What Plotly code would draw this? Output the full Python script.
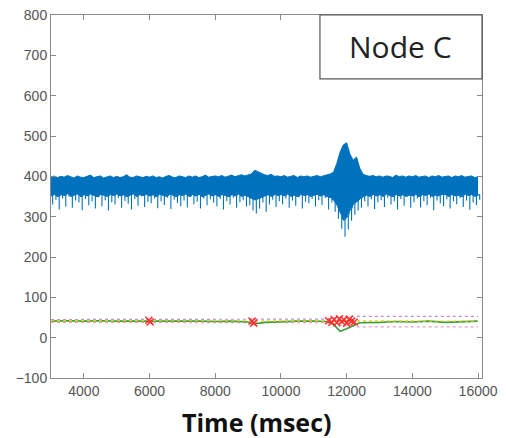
import plotly.graph_objects as go

# ---- data ----
t_start, t_step = 3000, 100
sig_upper = [398,401,397,400,398,402,399,396,401,398,
             397,400,403,397,399,401,396,398,401,397,
             400,397,399,404,398,397,401,399,397,400,
             398,401,397,399,396,400,402,398,397,401,
             399,397,401,398,401,397,399,403,398,400,
             401,399,402,398,400,403,399,402,404,401,
             403,406,415,411,408,404,402,405,400,401,
             399,402,398,400,402,397,401,399,401,398,
             400,402,399,401,403,406,410,432,460,478,
             483,455,440,448,420,405,402,400,402,399,
             401,398,401,400,397,403,399,401,398,401,
             399,402,398,400,401,397,401,399,402,398,
             400,401,397,401,399,402,398,400,401,397,
             399]
sig_core = [352,356,350,355,353,358,351,354,357,350,
            355,352,357,353,350,356,354,351,355,353,
            357,352,355,350,354,357,351,355,353,356,
            352,355,350,357,353,351,356,354,350,355,
            353,357,351,355,352,356,350,354,357,352,
            355,351,356,353,350,355,352,357,351,354,
            350,346,342,345,348,352,355,351,356,353,
            355,352,357,351,354,350,356,353,355,351,
            354,356,352,355,350,348,342,330,312,292,
            300,318,332,338,345,350,354,351,356,352,
            355,351,357,353,350,356,352,355,351,354,
            352,356,350,355,353,357,351,354,352,356,
            355,351,356,352,354,350,357,353,355,351,
            354]
sig_lower = [330,342,318,345,325,350,322,340,335,316,
             344,328,338,320,348,326,341,315,336,330,
             346,322,339,332,318,344,327,350,324,337,
             333,345,321,338,329,347,319,342,334,326,
             340,323,349,331,337,320,345,328,343,335,
             326,344,318,339,330,347,322,336,341,325,
             328,315,308,320,335,312,330,342,324,338,
             331,345,322,340,327,348,320,337,333,344,
             325,341,329,346,318,335,312,295,270,250,
             268,290,305,315,322,338,326,343,319,336,
             341,324,347,330,338,318,344,327,350,322,
             336,345,323,339,328,347,316,340,333,326,
             343,320,338,331,346,324,340,317,335,329,
             342]

green_t = [3000,3500,4000,4500,5000,5500,6000,6500,7000,7500,8000,8500,9000,9200,9500,
           10000,10500,11000,11400,11600,11800,12000,12200,12400,13000,13500,14000,14500,
           15000,15500,16000]
green_v = [41,42,41,42,41,41,42,41,42,41,40,41,39,34,38,40,41,41,40,33,16,22,30,37,38,
           40,39,41,38,39,41]

ub_t = [3000, 11400, 11700, 12300, 16000]
ub_v = [45, 46, 50, 53, 53]
lb_t = [3000, 11400, 11700, 12300, 16000]
lb_v = [38, 37, 32, 27, 27]
mid_t = [3000, 16000]
mid_v = [42, 41]

red_t = [5980, 6020, 9120, 9170, 11450, 11550, 11620, 11700, 11780, 11850, 11920,
         12000, 12080, 12150, 12230]
red_v = [43, 39, 41, 36, 42, 38, 45, 37, 47, 40, 44, 36, 46, 41, 39]

x_ticks = [4000, 6000, 8000, 10000, 12000, 14000, 16000]
x_tick_text = ["4000", "6000", "8000", "10000", "12000", "14000", "16000"]
y_ticks = [-100, 0, 100, 200, 300, 400, 500, 600, 700, 800]

sig_t = [t_start + i * t_step for i in range(len(sig_upper))]

# thin downward spikes: vertical strokes from the core level to the lower sample
spike_t, spike_v = [], []
for t, c, l in zip(sig_t, sig_core, sig_lower):
    tm = t + t_step * 0.5
    spike_t += [t, tm, tm, tm]
    spike_v += [c, c, l, c]

BLUE = "#0072BD"
fig = go.Figure()
fig.add_trace(go.Scatter(x=spike_t, y=spike_v, mode="lines",
                         line=dict(color=BLUE, width=1.1), hoverinfo="skip"))
fig.add_trace(go.Scatter(x=sig_t, y=sig_core, mode="lines",
                         line=dict(color=BLUE, width=1), hoverinfo="skip"))
fig.add_trace(go.Scatter(x=sig_t, y=sig_upper, mode="lines", fill="tonexty",
                         fillcolor=BLUE, line=dict(color=BLUE, width=1), hoverinfo="skip"))
fig.add_trace(go.Scatter(x=ub_t, y=ub_v, mode="lines",
                         line=dict(color="#b890e0", width=1.2, dash="dot")))
fig.add_trace(go.Scatter(x=lb_t, y=lb_v, mode="lines",
                         line=dict(color="#e8a0c8", width=1.2, dash="dot")))
fig.add_trace(go.Scatter(x=green_t, y=green_v, mode="lines",
                         line=dict(color="#3a9a3a", width=1.6)))
fig.add_trace(go.Scatter(x=mid_t, y=mid_v, mode="lines",
                         line=dict(color="#e0d020", width=1.4, dash="dot")))
fig.add_trace(go.Scatter(x=red_t, y=red_v, mode="markers",
                         marker=dict(symbol="x-thin", size=7, color="#ff3030",
                                     line=dict(color="#ff3030", width=1.5))))

axis_common = dict(showgrid=False, zeroline=False, showline=True, linecolor="#8a8a8a",
                   linewidth=1, mirror="ticks", ticks="inside", ticklen=5,
                   tickcolor="#8a8a8a", automargin=False, ticklabeloverflow="allow",
                   tickfont=dict(family="Liberation Sans, Arial, sans-serif",
                                 size=14, color="#555555"))

fig.update_layout(
    width=498, height=430,
    margin=dict(l=43, r=24, t=7, b=60),
    paper_bgcolor="white", plot_bgcolor="white",
    showlegend=False,
    xaxis=dict(range=[3000, 16120], tickvals=x_ticks, ticktext=x_tick_text, **axis_common),
    yaxis=dict(range=[-100, 800], tickvals=y_ticks, **axis_common),
    shapes=[dict(type="rect", xref="paper", yref="paper",
                 x0=0.624, x1=1.0, y0=0.824, y1=1.0,
                 line=dict(color="#555555", width=1.2), fillcolor="white", layer="above")],
    annotations=[
        dict(text="Node C", xref="paper", yref="paper", x=0.812, y=0.912,
             showarrow=False, xanchor="center", yanchor="middle",
             font=dict(family="Open Sans, sans-serif", size=30, color="#222222")),
        dict(text="<b>Time (msec)</b>", xref="paper", yref="paper", x=0.476, y=-0.121,
             showarrow=False, xanchor="center", yanchor="middle",
             font=dict(family="Open Sans, sans-serif", size=25, color="#111111")),
    ],
)

fig.write_html("out.html")
